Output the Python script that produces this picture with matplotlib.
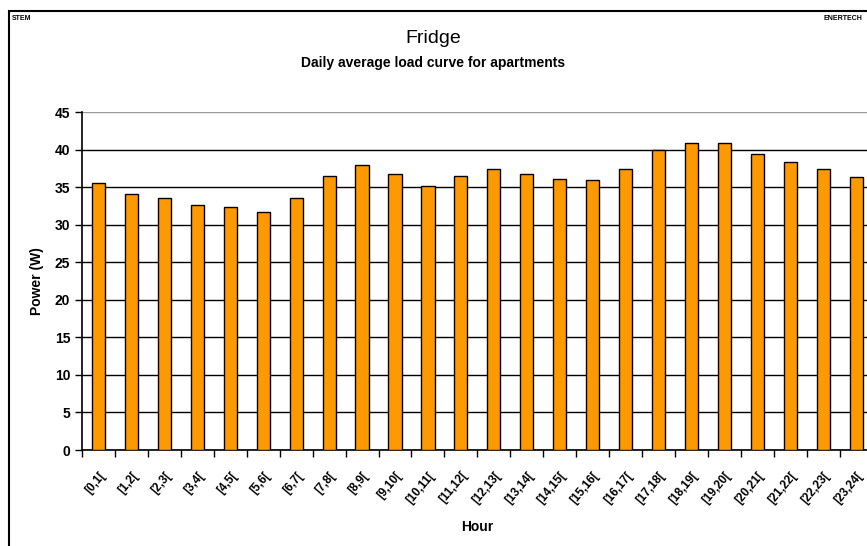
import matplotlib
matplotlib.use("Agg")
import matplotlib.pyplot as plt
import numpy as np
from matplotlib.patches import Rectangle

plt.rcParams['font.family'] = ['Liberation Sans', 'DejaVu Sans']

# Datos: curva de carga media diaria (W)
hours = ["[0,1[", "[1,2[", "[2,3[", "[3,4[", "[4,5[", "[5,6[", "[6,7[", "[7,8[",
         "[8,9[", "[9,10[", "[10,11[", "[11,12[", "[12,13[", "[13,14[", "[14,15[",
         "[15,16[", "[16,17[", "[17,18[", "[18,19[", "[19,20[", "[20,21[",
         "[21,22[", "[22,23[", "[23,24["]
power = [35.6, 34.1, 33.5, 32.6, 32.4, 31.7, 33.5, 36.5, 38.0, 36.7, 35.2, 36.5,
         37.4, 36.7, 36.1, 35.9, 37.4, 40.0, 40.9, 40.9, 39.4, 38.3, 37.4, 36.3]

fig = plt.figure(figsize=(8.67, 5.46), dpi=100)
ax = fig.add_axes([0.0946, 0.1758, 0.912, 0.619])

x = np.arange(len(hours))
ax.bar(x, power, width=0.4, color="#FF9900", edgecolor="black", linewidth=1.0, zorder=3)

ax.set_xlim(-0.5, len(hours) - 0.5)
ax.set_ylim(0, 45)
ax.set_yticks(range(0, 46, 5))
ax.tick_params(axis='y', labelsize=10, length=5, width=1, direction='out')
for lab in ax.get_yticklabels():
    lab.set_fontweight('bold')

ax.set_xticks(x)
ax.set_xticklabels(hours, rotation=50, ha='right', rotation_mode='anchor',
                   fontsize=8.5, fontweight='bold')
ax.tick_params(axis='x', which='major', length=0, pad=14)
ax.set_xticks(np.arange(-0.5, len(hours) + 0.5, 1), minor=True)
ax.tick_params(axis='x', which='minor', length=5, width=1, direction='out')

ax.grid(axis='y', color='black', linewidth=1.0, zorder=0)
ax.set_axisbelow(True)
for s in ['top', 'right']:
    ax.spines[s].set_visible(False)
ax.spines['left'].set_linewidth(1.2)
ax.spines['bottom'].set_linewidth(1.2)
# linea superior gris en 45
ax.get_ygridlines()[-1].set_color('#999999')

ax.set_ylabel('Power (W)', fontsize=10, fontweight='bold', labelpad=8)
ax.set_xlabel('Hour', fontsize=10, fontweight='bold', labelpad=10)

# Titulos y marco
fig.text(0.5, 0.93, 'Fridge', ha='center', va='center', fontsize=14)
fig.text(0.5, 0.885, 'Daily average load curve for apartments', ha='center',
         va='center', fontsize=10, fontweight='bold')
fig.text(0.014, 0.967, 'STEM', ha='left', va='center', fontsize=5, fontweight='bold')
fig.text(0.995, 0.967, 'ENERTECH', ha='right', va='center', fontsize=5, fontweight='bold')
fig.patches.append(Rectangle((8.5 / 867, -0.05), 1.0, 1 - 10.5 / 546 + 0.05,
                             transform=fig.transFigure, fill=False,
                             edgecolor='black', linewidth=1.5))

fig.savefig("out.png", dpi=100)
